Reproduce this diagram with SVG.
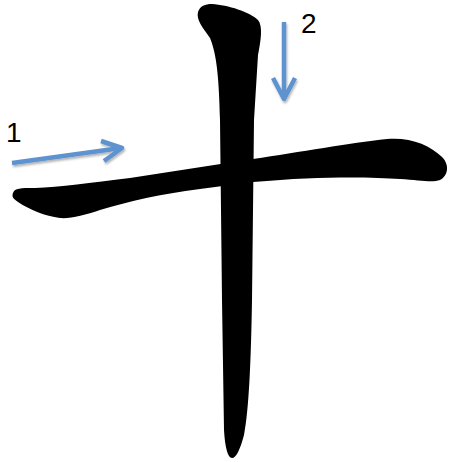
<svg xmlns="http://www.w3.org/2000/svg" width="450" height="462" viewBox="0 0 450 462">
  <style>
    .brush { fill: #000; stroke: none; }
    .arrow { stroke: #5E93CF; stroke-width: 4.5; fill: none; stroke-linecap: butt; stroke-linejoin: round; }
    .label { font-family: "Liberation Sans", "Open Sans", Arial, sans-serif; font-size: 28px; fill: #000; }
  </style>
  <defs>
    <filter id="shadow" filterUnits="userSpaceOnUse" x="0" y="0" width="450" height="462">
      <feDropShadow dx="1" dy="2" stdDeviation="1.2" flood-color="#000" flood-opacity="0.3"/>
    </filter>
  </defs>

  <g id="character">
    <path id="stroke-heng" class="brush" d="M 13,193 C 15,188 20,188 35,188 C 60,187 90,183 130,178 L 253,159 C 300,152 350,143 387,139 C 410,137 430,145 442,157 C 450,165 448,176 440,180 C 432,183 420,180 400,179 C 370,177 320,176 253,182 L 200,189 C 160,194 130,201 100,210 C 85,215 70,219 60,218 C 45,216 30,210 18,202 C 12,198 12,196 13,193 Z"/>
    <path id="stroke-shu" class="brush" d="M 198,12 C 200,6 205,4 212,4 C 228,5 250,12 258,20 C 263,26 261,40 258,55 L 254,120 L 252,300 C 251,360 249,410 244,435 C 240,450 236,458 232,458 C 228,458 225,448 224,430 L 222,300 L 220,120 C 219,80 217,55 210,38 C 203,28 196,20 198,12 Z"/>
  </g>

  <g id="connectors" filter="url(#shadow)">
    <g id="arrow-1">
      <path class="arrow" d="M 12,163 L 121,148"/>
      <path class="arrow" d="M 101,141 L 122,148 L 104,161"/>
    </g>
    <g id="arrow-2">
      <path class="arrow" d="M 284,22 L 284,98"/>
      <path class="arrow" d="M 273,78 L 284,99 L 295,78"/>
    </g>
  </g>

  <g id="label-1">
    <text class="label" x="6" y="142">1</text>
  </g>
  <g id="label-2">
    <text class="label" x="301" y="33">2</text>
  </g>
</svg>
